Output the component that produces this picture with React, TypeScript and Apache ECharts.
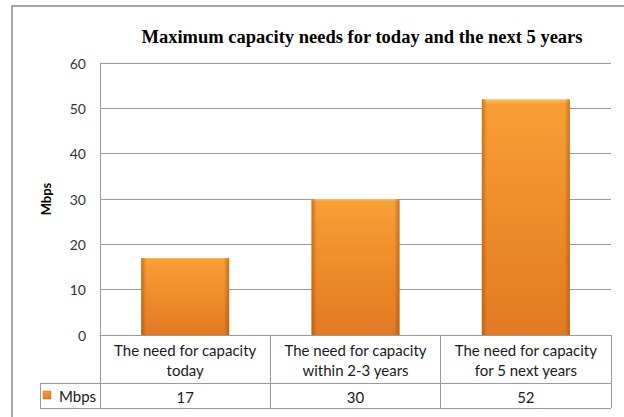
import React, { useEffect, useRef } from "react";
import * as echarts from "echarts";

const chartTitle = "Maximum capacity needs for today and the next 5 years";
const categories = [
  "The need for capacity\ntoday",
  "The need for capacity\nwithin 2-3 years",
  "The need for capacity\nfor 5 next years",
];
const values = [17, 30, 52];
const seriesName = "Mbps";
const yAxisName = "Mbps";
const yMin = 0;
const yMax = 60;
const yInterval = 10;

const FONT = "Lato, 'Open Sans', sans-serif";

export default function App() {
  const ref = useRef<HTMLDivElement>(null);
  useEffect(() => {
    if (!ref.current) return;
    const chart = echarts.init(ref.current, undefined, { renderer: "svg" });
    const barFill = new echarts.graphic.LinearGradient(0, 0, 0, 1, [
      { offset: 0, color: "#FBC060" },
      { offset: 0.02, color: "#F99E35" },
      { offset: 1, color: "#E27A22" },
    ]);
    const sideShade = new echarts.graphic.LinearGradient(0, 0, 1, 0, [
      { offset: 0, color: "rgba(150,70,0,0.5)" },
      { offset: 0.06, color: "rgba(150,70,0,0)" },
      { offset: 0.94, color: "rgba(150,70,0,0)" },
      { offset: 1, color: "rgba(150,70,0,0.5)" },
    ]);
    const lineStyle = { stroke: "#9a9a9a", lineWidth: 1 };
    chart.setOption({
      animation: false,
      backgroundColor: "#ffffff",
      grid: { left: 100, right: 13, top: 63, bottom: 82, containLabel: false },
      xAxis: [
        {
          type: "category",
          data: categories,
          position: "bottom",
          axisLine: { show: true, lineStyle: { color: "#9a9a9a", width: 1 } },
          axisTick: {
            show: true,
            alignWithLabel: false,
            length: 73,
            inside: false,
            lineStyle: { color: "#9a9a9a", width: 1 },
          },
          axisLabel: {
            show: true,
            interval: 0,
            margin: 5,
            fontFamily: FONT,
            fontSize: 15,
            lineHeight: 20,
            color: "#1a1a1a",
          },
          splitLine: { show: false },
        },
        {
          type: "category",
          data: categories,
          position: "bottom",
          offset: 48,
          axisLine: { show: false },
          axisTick: { show: false },
          axisLabel: {
            show: true,
            interval: 0,
            margin: 6,
            fontFamily: FONT,
            fontSize: 15,
            color: "#1a1a1a",
            formatter: (_v: string, i: number) => String(values[i]),
          },
        },
      ],
      yAxis: {
        type: "value",
        min: yMin,
        max: yMax,
        interval: yInterval,
        name: yAxisName,
        nameLocation: "middle",
        nameRotate: 90,
        nameGap: 48,
        nameTextStyle: {
          fontFamily: FONT,
          fontWeight: "bold",
          fontSize: 13,
          color: "#000",
        },
        axisLine: { show: true, lineStyle: { color: "#9a9a9a", width: 1 } },
        axisTick: { show: false },
        axisLabel: {
          margin: 14,
          fontFamily: FONT,
          fontSize: 14,
          color: "#333",
        },
        splitLine: { show: true, lineStyle: { color: "#9a9a9a", width: 1 } },
      },
      series: [
        {
          name: seriesName,
          type: "bar",
          data: values,
          barWidth: 88,
          itemStyle: { color: barFill },
          xAxisIndex: 0,
        },
        {
          name: seriesName + "-shade",
          type: "bar",
          data: values,
          barWidth: 88,
          barGap: "-100%",
          itemStyle: { color: sideShade },
          xAxisIndex: 0,
          silent: true,
        },
      ],
      graphic: [
        {
          type: "rect",
          shape: { x: 12, y: 6, width: 640, height: 440 },
          style: { fill: "none", stroke: "#8a8a8a", lineWidth: 1.5 },
          silent: true,
        },
        {
          type: "text",
          x: 362,
          y: 37,
          style: {
            text: chartTitle,
            fontFamily: "'Liberation Serif', serif",
            fontWeight: "bold",
            fontSize: 18.5,
            fill: "#000",
            align: "center",
            verticalAlign: "middle",
          },
        },
        { type: "line", shape: { x1: 40, y1: 383.5, x2: 611, y2: 383.5 }, style: lineStyle },
        { type: "line", shape: { x1: 40, y1: 408.5, x2: 611, y2: 408.5 }, style: lineStyle },
        { type: "line", shape: { x1: 40.5, y1: 383.5, x2: 40.5, y2: 408.5 }, style: lineStyle },
        {
          type: "rect",
          shape: { x: 43, y: 391, width: 8, height: 8 },
          style: { fill: barFill, stroke: "#c9691c", lineWidth: 0.5 },
        },
        {
          type: "text",
          x: 59,
          y: 396,
          style: {
            text: seriesName,
            fontFamily: FONT,
            fontSize: 15,
            fill: "#1a1a1a",
            align: "left",
            verticalAlign: "middle",
          },
        },
      ],
    });
    return () => chart.dispose();
  }, []);
  return (
    <div
      ref={ref}
      style={{ position: "fixed", left: 0, top: 0, width: 624, height: 417 }}
    />
  );
}
